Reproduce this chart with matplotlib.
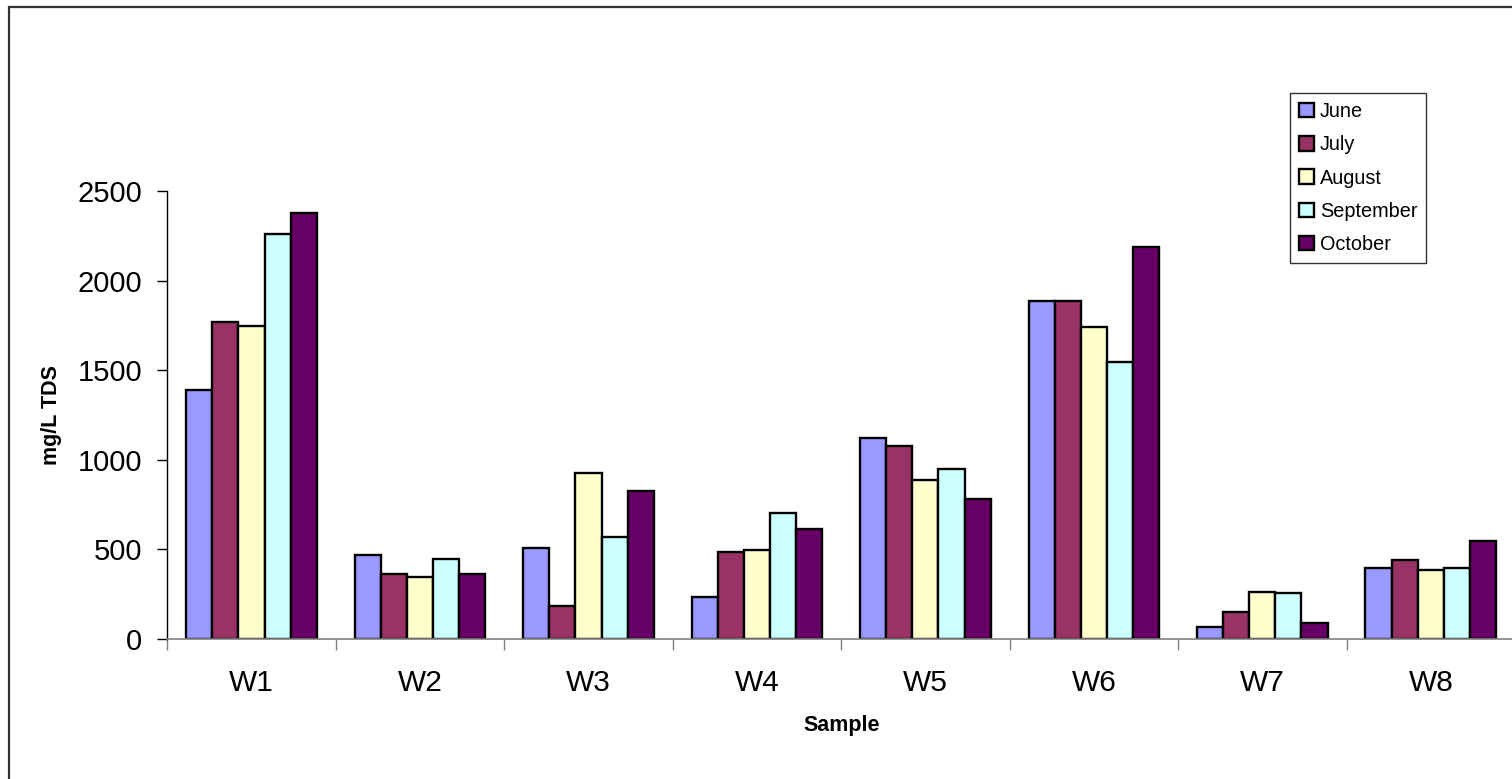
import matplotlib
matplotlib.use("Agg")
import matplotlib.pyplot as plt
from matplotlib.patches import Rectangle
import numpy as np

plt.rcParams['font.family'] = ['Liberation Sans', 'DejaVu Sans']

samples = ["W1", "W2", "W3", "W4", "W5", "W6", "W7", "W8"]
months = ["June", "July", "August", "September", "October"]

june = [1391, 468, 505, 231, 1120, 1885, 65, 393]
july = [1768, 360, 181, 482, 1077, 1889, 149, 438]
august = [1745, 346, 924, 494, 887, 1744, 261, 384]
september = [2263, 443, 566, 700, 948, 1546, 257, 397]
october = [2377, 360, 827, 613, 781, 2191, 86, 548]

series = [june, july, august, september, october]
colors = ["#9999FF", "#993366", "#FFFFCC", "#CCFFFF", "#660066"]

W, H = 1512, 779
fig = plt.figure(figsize=(W / 100, H / 100), dpi=100)

# outer chart frame
fig.patches.append(Rectangle((9 / W, -0.1), 1.2, 1 - 7 / H + 0.1,
                             transform=fig.transFigure, fill=False,
                             edgecolor="#333333", linewidth=1.6))

left, right = 167.3, 1515.0
top, bottom = 191.3, 638.7
ax = fig.add_axes([left / W, 1 - bottom / H, (right - left) / W, (bottom - top) / H])

x = np.arange(len(samples))
bw = 0.155
for k, (vals, c, m) in enumerate(zip(series, colors, months)):
    ax.bar(x + (k - 2) * bw, vals, width=bw, color=c, edgecolor="black",
           linewidth=1.7, label=m, zorder=3)

ax.set_xlim(-0.5, len(samples) - 0.5)
ax.set_ylim(0, 2500)
ax.set_yticks([0, 500, 1000, 1500, 2000, 2500])
ax.tick_params(axis="y", length=7, width=1, pad=11, labelsize=21, colors="black")

ax.set_xticks(np.arange(len(samples) + 1) - 0.5)
ax.set_xticklabels([])
ax.set_xticks(x, minor=True)
ax.set_xticklabels(samples, minor=True)
ax.tick_params(axis="x", which="major", length=8, width=1, color="#808080")
ax.tick_params(axis="x", which="minor", length=0, pad=22, labelsize=21.5)

for s in ["top", "right"]:
    ax.spines[s].set_visible(False)
ax.spines["left"].set_color("black")
ax.spines["left"].set_linewidth(1)
ax.spines["bottom"].set_color("#808080")
ax.spines["bottom"].set_linewidth(1.2)
ax.spines["bottom"].set_zorder(4)

fig.text(51.7 / W, 1 - 415 / H, "mg/L TDS", rotation=90, fontsize=15.5,
         fontweight="bold", ha="center", va="center")
fig.text(842 / W, 1 - 726 / H, "Sample", fontsize=15.5, fontweight="bold",
         ha="center", va="center")

leg = ax.legend(loc="upper left", bbox_to_anchor=(1290 / W, 1 - 93 / H),
                bbox_transform=fig.transFigure, fontsize=14.3, frameon=True,
                fancybox=False, borderaxespad=0, handlelength=0.75,
                handleheight=0.75, handletextpad=0.3, labelspacing=0.72,
                borderpad=0.45)
leg.get_frame().set_edgecolor("black")
leg.get_frame().set_linewidth(1)

fig.savefig("out.png", dpi=100)
